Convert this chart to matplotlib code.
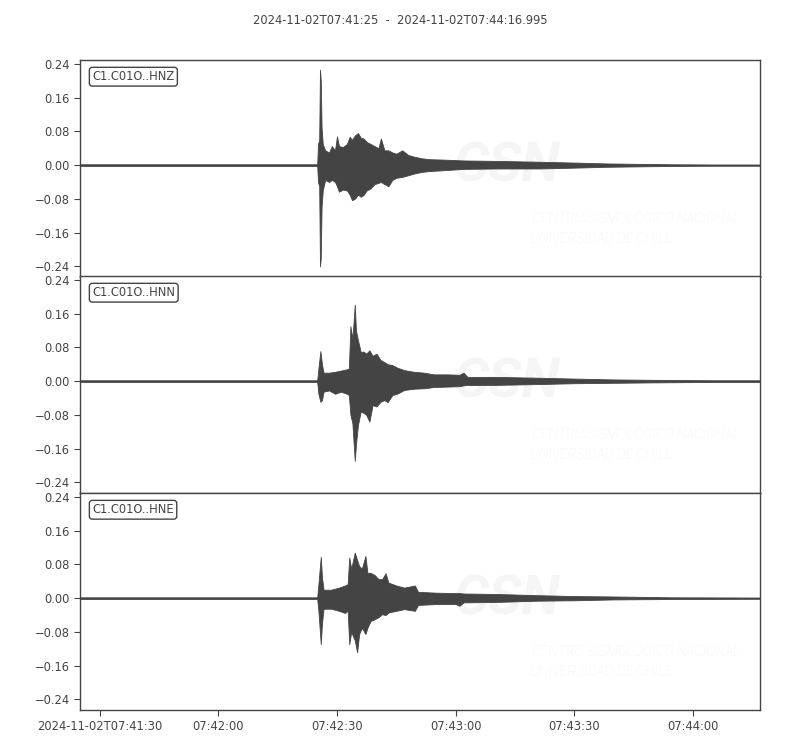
import matplotlib
matplotlib.use("Agg")
import matplotlib.pyplot as plt
import numpy as np

# ---- data (seconds after 2024-11-02T07:41:25, envelope) ----
channels = ["C1.C01O..HNZ", "C1.C01O..HNN", "C1.C01O..HNE"]

t_hnz = [0, 60.0, 60.2, 60.5, 60.7, 60.9, 61.1, 61.4, 62.0, 63.0, 63.7, 64.5, 65.0, 65.5,
         66.5, 67.5, 68.2, 68.8, 69.5, 70.3, 71.0, 71.7, 72.5, 73.5, 74.5, 75.5, 76.1, 77.0,
         78.0, 79.0, 80.0, 81.5, 83.0, 84.5, 86.5, 88.5, 92.0, 97.0, 105, 116, 125, 133,
         141, 150, 160, 172]
up_hnz = [0.002, 0.002, 0.05, 0.06, 0.226, 0.20, 0.09, 0.05, 0.035, 0.03, 0.045, 0.035,
          0.068, 0.045, 0.043, 0.05, 0.067, 0.06, 0.07, 0.076, 0.065, 0.063, 0.055, 0.05,
          0.045, 0.04, 0.063, 0.035, 0.035, 0.03, 0.027, 0.035, 0.024, 0.02, 0.016, 0.014,
          0.013, 0.011, 0.010, 0.008, 0.006, 0.004, 0.003, 0.002, 0.0015, 0.0015]
lo_hnz = [-0.002, -0.002, -0.04, -0.05, -0.24, -0.22, -0.10, -0.06, -0.035, -0.04, -0.035,
          -0.04, -0.05, -0.063, -0.058, -0.06, -0.07, -0.083, -0.08, -0.07, -0.075, -0.071,
          -0.06, -0.055, -0.045, -0.042, -0.04, -0.045, -0.05, -0.035, -0.03, -0.028,
          -0.024, -0.02, -0.016, -0.014, -0.012, -0.009, -0.008, -0.008, -0.006, -0.004,
          -0.003, -0.002, -0.0015, -0.0015]

t_hnn = [0, 60.0, 60.3, 60.8, 61.2, 61.6, 63.0, 64.5, 66.0, 67.5, 68.0, 68.4, 68.9, 69.5,
         69.8, 70.3, 71.0, 71.7, 72.4, 73.2, 74.0, 75.0, 76.0, 77.0, 77.8, 79.0, 80.2, 82.0,
         84.5, 87.0, 89.5, 93.0, 96.0, 97.0, 98.0, 105, 116, 125, 135, 145, 160, 172]
up_hnn = [0.002, 0.002, 0.03, 0.071, 0.04, 0.02, 0.02, 0.022, 0.025, 0.028, 0.03, 0.13,
          0.10, 0.181, 0.12, 0.097, 0.069, 0.07, 0.065, 0.073, 0.06, 0.065, 0.05, 0.045,
          0.04, 0.038, 0.032, 0.026, 0.022, 0.02, 0.016, 0.016, 0.015, 0.02, 0.01, 0.01,
          0.008, 0.006, 0.004, 0.003, 0.002, 0.002]
lo_hnn = [-0.002, -0.002, -0.03, -0.049, -0.045, -0.025, -0.022, -0.03, -0.025, -0.03,
          -0.033, -0.08, -0.10, -0.189, -0.15, -0.104, -0.072, -0.075, -0.08, -0.096,
          -0.057, -0.06, -0.049, -0.045, -0.05, -0.033, -0.03, -0.021, -0.018, -0.017,
          -0.014, -0.013, -0.012, -0.01, -0.009, -0.009, -0.007, -0.005, -0.004, -0.003,
          -0.002, -0.002]

t_hne = [0, 60.0, 60.3, 60.9, 61.2, 61.6, 63.5, 65.5, 67.0, 67.7, 68.1, 68.6, 69.5, 70.1,
         70.6, 71.3, 72.2, 72.7, 73.5, 74.5, 75.5, 76.4, 77.3, 78.0, 80.0, 82.0, 84.7, 85.5,
         90.0, 95.0, 96.0, 97.0, 105, 116, 125, 135, 150, 172]
up_hne = [0.002, 0.002, 0.033, 0.098, 0.05, 0.02, 0.02, 0.025, 0.03, 0.033, 0.096, 0.07,
          0.108, 0.09, 0.076, 0.07, 0.10, 0.06, 0.06, 0.055, 0.045, 0.045, 0.059, 0.037,
          0.03, 0.025, 0.03, 0.015, 0.013, 0.012, 0.012, 0.011, 0.010, 0.007, 0.005, 0.004,
          0.002, 0.0015]
lo_hne = [-0.002, -0.002, -0.03, -0.109, -0.06, -0.025, -0.025, -0.03, -0.035, -0.03,
          -0.109, -0.08, -0.10, -0.128, -0.085, -0.07, -0.085, -0.07, -0.054, -0.05,
          -0.045, -0.038, -0.04, -0.034, -0.03, -0.026, -0.03, -0.016, -0.014, -0.014,
          -0.018, -0.01, -0.009, -0.006, -0.005, -0.003, -0.002, -0.0015]

times = [t_hnz, t_hnn, t_hne]
uppers = [up_hnz, up_hnn, up_hne]
lowers = [lo_hnz, lo_hnn, lo_hne]

yticks = [-0.24, -0.16, -0.08, 0.0, 0.08, 0.16, 0.24]
xticks = [5, 35, 65, 95, 125, 155]
xticklabels = ["2024-11-02T07:41:30", "07:42:00", "07:42:30", "07:43:00", "07:43:30", "07:44:00"]
title = "2024-11-02T07:41:25  -  2024-11-02T07:44:16.995"

# ---- figure ----
plt.rcParams["font.family"] = ["DejaVu Sans"]
plt.rcParams["axes.unicode_minus"] = True
dark = "#444444"

fig = plt.figure(figsize=(8, 7.5), dpi=100)
left, right = 0.1, 0.95
bottoms = [0.6307, 0.3427, 0.0533]
h = 0.2893

for i, (name, t, up, lo) in enumerate(zip(channels, times, uppers, lowers)):
    ax = fig.add_axes([left, bottoms[i], right - left, h])
    # watermark
    ax.text(0.55, 0.44, "CSN", transform=ax.transAxes, fontsize=40, fontweight="bold",
            fontstyle="italic", family="Roboto", color="#f5f5f5", zorder=0)
    ax.text(0.665, 0.25, "CENTRO SISMOLÓGICO NACIONAL", transform=ax.transAxes,
            fontsize=10, fontstyle="italic", family="Roboto", fontweight="light",
            color="#f3f3f3", zorder=0)
    ax.text(0.662, 0.155, "UNIVERSIDAD DE CHILE", transform=ax.transAxes,
            fontsize=10, fontstyle="italic", family="Roboto", fontweight="light",
            color="#f3f3f3", zorder=0)

    ax.fill_between(t, lo, up, color=dark, linewidth=0.6, edgecolor=dark, zorder=2)
    ax.set_xlim(0, 171.995)
    ax.set_ylim(-0.265, 0.249)
    ax.set_yticks(yticks)
    ax.set_yticklabels([f"{v:.2f}".replace("-", "\u2212") for v in yticks])
    ax.tick_params(axis="both", labelsize=8.3, colors=dark, length=4, width=0.8)
    for s in ax.spines.values():
        s.set_color(dark)
        s.set_linewidth(1.0)
    ax.text(0.018, 0.923, name, transform=ax.transAxes, fontsize=8.3, color=dark,
            ha="left", va="center", zorder=5,
            bbox=dict(boxstyle="round,pad=0.25", facecolor="white", edgecolor=dark,
                      linewidth=1.0))
    if i < 2:
        ax.set_xticks([])
    else:
        ax.set_xticks(xticks)
        ax.set_xticklabels(xticklabels)

fig.text(0.5, 0.973, title, ha="center", va="center", fontsize=8.3, color=dark)
fig.savefig("out.png", dpi=100, facecolor="white")
